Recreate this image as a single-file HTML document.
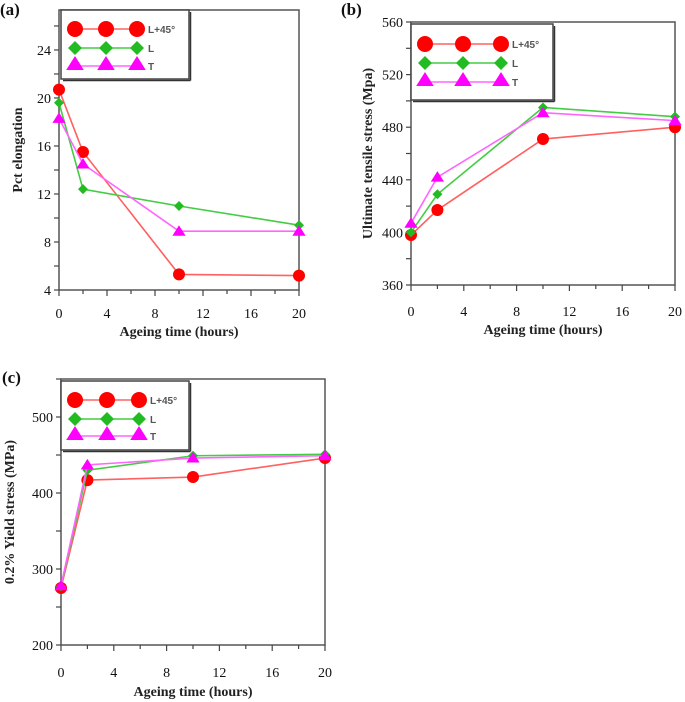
<!DOCTYPE html>
<html><head><meta charset="utf-8"><style>
body{margin:0;background:#fff;}
svg{display:block;font-family:"Liberation Serif",serif;}
</style></head><body>
<svg id="s" width="685" height="702" viewBox="0 0 685 702" xmlns="http://www.w3.org/2000/svg"></svg>
<script>
const xHours = [0, 2, 10, 20];
const xTicks = [0, 4, 8, 12, 16, 20];
const seriesNames = ["L+45°", "L", "T"];
// (a) Pct elongation
const elongL45 = [20.7, 15.5, 5.3, 5.2];
const elongL = [19.6, 12.4, 11.0, 9.4];
const elongT = [18.3, 14.5, 8.9, 8.9];
const elongTicks = [4, 8, 12, 16, 20, 24];
// (b) UTS
const utsL45 = [398, 417, 471, 480];
const utsL = [400, 429, 495, 488];
const utsT = [407, 442, 491, 485];
const utsTicks = [360, 400, 440, 480, 520, 560];
// (c) Yield
const ysL45 = [275, 417, 421, 446];
const ysL = [277, 430, 449, 451];
const ysT = [278, 437, 446, 449];
const ysTicks = [200, 300, 400, 500];

const NS = "http://www.w3.org/2000/svg";
const svg = document.getElementById("s");
function mk(tag, attrs, parent, text){
  const e = document.createElementNS(NS, tag);
  for (const k in attrs) e.setAttribute(k, attrs[k]);
  if (text !== undefined) e.textContent = text;
  (parent || svg).appendChild(e);
  return e;
}
const colors = {line:["#ff6060","#44cc44","#ff66ff"], mark:["#ff0000","#22bb22","#ff00ff"]};
function marker(g, type, cx, cy, s, i){
  let m;
  if (type === 0) m = mk("circle", {cx:cx, cy:cy, r:s, fill:colors.mark[0]}, g);
  else if (type === 1) m = mk("polygon", {points:`${cx},${cy-s} ${cx+s},${cy} ${cx},${cy+s} ${cx-s},${cy}`, fill:colors.mark[1]}, g);
  else m = mk("polygon", {points:`${cx},${cy-s} ${cx+s*1.1},${cy+s*0.75} ${cx-s*1.1},${cy+s*0.75}`, fill:colors.mark[2]}, g);
  return m;
}
function panel(opt){
  const g = mk("g", {});
  
  
  const L=opt.L,R=opt.R,T=opt.T,B=opt.B;
  const sx = v => L + (v - 0) / 20 * (R - L);
  const sy = v => B - (v - opt.ymin) / (opt.ymax - opt.ymin) * (B - T);
  const fr = mk("rect", {x:L, y:T, width:R-L, height:B-T, fill:"none", stroke:"#555", "stroke-width":1.5}, g);
  
  
  // x ticks
  for (let v = 0; v <= 20; v += 2) {
    mk("line", {x1:sx(v), x2:sx(v), y1:B, y2:B+(v%4===0?6:4), stroke:"#444", "stroke-width":1.2}, g);
  }
  xTicks.forEach(v => {
    const t = mk("text", {x:sx(v), y:opt.tickY, "font-size":14, "text-anchor":"middle", fill:"#111"}, g, v);
    
    
  });
  for (let v = opt.ymin; v <= opt.ymax + 1e-9; v += opt.minor) {
    mk("line", {x1:L-5, x2:L, y1:sy(v), y2:sy(v), stroke:"#444", "stroke-width":1.2}, g);
  }
  opt.yTicks.forEach(v => {
    const t = mk("text", {x:L-8, y:sy(v)+5, "font-size":14, "text-anchor":"end", fill:"#111"}, g, v);
    
    
  });
  if (opt.xTitle) {
    const xt = mk("text", {x:(L+R)/2, y:opt.xTitleY, "font-size":14, "font-weight":"bold", "text-anchor":"middle", fill:"#222"}, g, "Ageing time (hours)");
    
    
  }
  const yt = mk("text", {x:0, y:0, "font-size":14, "font-weight":"bold", "text-anchor":"middle", fill:"#222", transform:`translate(${opt.yTitleX},${(T+B)/2}) rotate(-90)`}, g, opt.yTitle);
  
  
  const pl = mk("text", {x:opt.lblX, y:opt.lblY, "font-size":17, "font-weight":"bold", fill:"#111"}, g, opt.label);
  
  
  // series
  const sizes = [6, 5, 6];
  opt.series.forEach((vals, i) => {
    const sg = mk("g", {}, g);
    
    
    const pts = vals.map((v, k) => `${sx(xHours[k])},${sy(v)}`).join(" ");
    mk("polyline", {points:pts, fill:"none", stroke:colors.line[i], "stroke-width":1.6}, sg);
    vals.forEach((v, k) => {
      const m = marker(sg, i, sx(xHours[k]), sy(v), sizes[i]);
      
      
    });
  });
  // legend
  const lg = mk("g", {}, g);
  
  
  const lb = opt.leg;
  mk("rect", {x:lb.x, y:lb.y, width:lb.w, height:lb.h, fill:"#fff", stroke:"#444", "stroke-width":1.5}, lg);
  mk("line", {x1:lb.x+lb.w+1.5, x2:lb.x+lb.w+1.5, y1:lb.y+2, y2:lb.y+lb.h+1.5, stroke:"#333", "stroke-width":1.5}, lg);
  mk("line", {x1:lb.x+2, x2:lb.x+lb.w+1.5, y1:lb.y+lb.h+1.5, y2:lb.y+lb.h+1.5, stroke:"#333", "stroke-width":1.5}, lg);
  const lsz = [8, 7, 8];
  seriesNames.forEach((n, i) => {
    const e = mk("g", {}, lg);
    
    
    const y = lb.y + lb.rows[i];
    const xs = [lb.x + 14, lb.x + 14 + lb.sp, lb.x + 14 + 2*lb.sp];
    mk("line", {x1:xs[0], x2:xs[2], y1:y, y2:y, stroke:colors.line[i], "stroke-width":1.6}, e);
    xs.forEach(x => marker(e, i, x, i===2 ? y-2 : y, lsz[i]));
    mk("text", {x:xs[2]+11, y:y+4, "font-size":10, "font-weight":"bold", "font-family":"Liberation Sans, sans-serif", fill:"#555"}, e, n);
  });
}
panel({name:"panel-a-elongation", L:59, R:299, T:10, B:290, ymin:4, ymax:27.33, minor:2, yTicks:elongTicks,
  series:[elongL45, elongL, elongT], tickY:318, xTitle:true, xTitleY:336, yTitle:"Pct elongation", yTitleX:22,
  label:"(a)", lblX:0, lblY:15, leg:{x:61, y:10, w:128, h:69, rows:[19, 38, 56], sp:31}});
panel({name:"panel-b-uts", L:411, R:675, T:22, B:285, ymin:360, ymax:560, minor:20, yTicks:utsTicks,
  series:[utsL45, utsL, utsT], tickY:316, xTitle:true, xTitleY:334, yTitle:"Ultimate tensile stress (Mpa)", yTitleX:372,
  label:"(b)", lblX:341, lblY:15, leg:{x:411, y:24, w:142, h:76, rows:[20, 39, 58], sp:38}});
panel({name:"panel-c-yield", L:61, R:325, T:379, B:645, ymin:200, ymax:550, minor:50, yTicks:ysTicks,
  series:[ysL45, ysL, ysT], tickY:677, xTitle:true, xTitleY:696, yTitle:"0.2% Yield stress (MPa)", yTitleX:14,
  label:"(c)", lblX:2, lblY:383, leg:{x:61, y:381, w:128, h:69, rows:[19, 38, 55], sp:32}});
</script>
</body></html>
